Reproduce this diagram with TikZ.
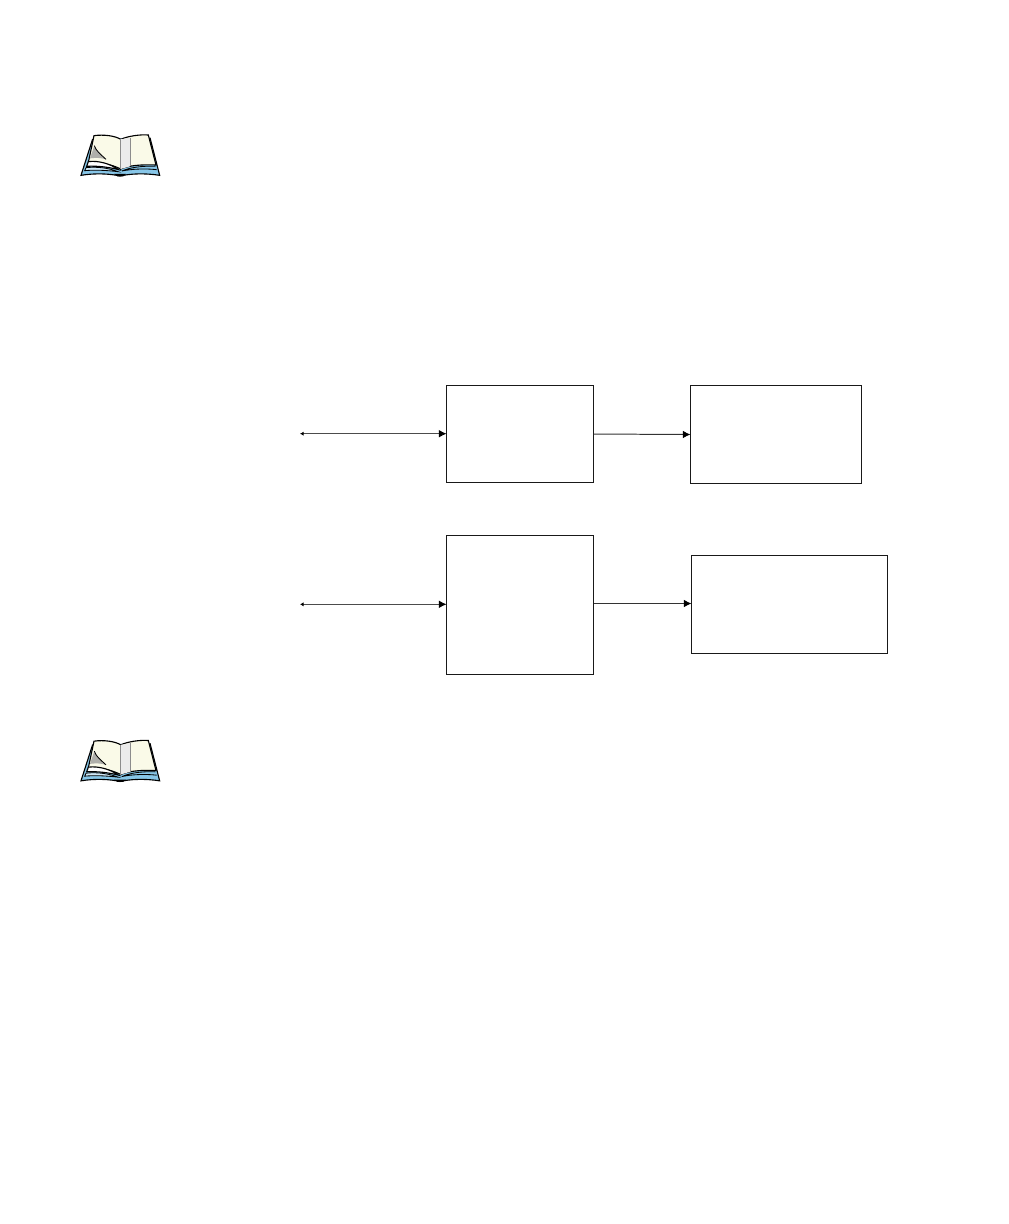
\documentclass[tikz,border=0pt]{standalone}
\usepackage{xcolor}
\usetikzlibrary{arrows.meta}
\definecolor{coverblue}{RGB}{135,198,232}
\definecolor{pagecream}{RGB}{250,250,232}
\definecolor{curlgray}{RGB}{175,175,170}

\begin{document}
\begin{tikzpicture}[x=0.025cm,y=-0.025cm,
  blockbox/.style={draw=black!90,line width=0.7pt,fill=white,anchor=north west,inner sep=0pt,outer sep=0pt},
  link/.style={draw=black!70,line width=0.6pt,{Latex[length=2.5pt,width=3pt,black]}-{Latex[length=5.5pt,width=5.5pt,black]}},
  oneway/.style={draw=black!80,line width=0.7pt,-{Latex[length=5.5pt,width=5.5pt,black]}},
  book/.pic={
    \begin{scope}[scale=0.3333]
      \fill[coverblue] (33,151) -- (68,42) -- (240,38) -- (269,151) .. controls (225,144) and (180,146) .. (150,153) .. controls (120,146) and (75,144) .. cycle;
      \draw[line width=0.8pt] (68,42) -- (33,151) .. controls (75,144) and (120,146) .. (150,153) .. controls (180,146) and (225,144) .. (269,151) -- (240,38);
      \fill[pagecream,draw=black,line width=0.8pt] (72,32) .. controls (100,28) and (135,32) .. (152,43) -- (152,132) .. controls (125,118) and (85,110) .. (55,112) -- cycle;
      \fill[pagecream,draw=black,line width=0.8pt] (152,43) .. controls (175,33) and (210,28) .. (235,30) -- (258,120) .. controls (210,118) and (175,122) .. (152,132) -- cycle;
      \fill[black!8] (152,43) -- (180,38) -- (180,124) -- (152,132) -- cycle;
      \draw[black!45,line width=0.4pt] (152,43) -- (152,132) (180,38) -- (180,124);
      \fill[curlgray] (73,62) .. controls (78,78) and (92,88) .. (108,103) .. controls (92,98) and (78,98) .. (60,100) -- cycle;
      \draw[line width=0.6pt] (73,62) .. controls (78,78) and (92,88) .. (108,103);
      \draw[line width=0.8pt,fill=white] (55,110) .. controls (85,106) and (120,116) .. (146,134) .. controls (115,126) and (80,122) .. (50,124) -- cycle;
      \draw[line width=0.6pt,fill=coverblue!40] (48,128) .. controls (85,124) and (118,130) .. (144,140) .. controls (110,136) and (75,134) .. (44,137) -- cycle;
      \draw[line width=0.6pt] (256,124) .. controls (215,122) and (178,128) .. (156,138) .. controls (185,132) and (225,130) .. (260,134);
      \fill[black] (132,147) -- (168,147) -- (160,154) -- (142,154) -- cycle;
    \end{scope}
  }]
  \useasboundingbox (0,0) rectangle (1008,1224);

  \pic (booktop) at (70,125) {book};
  \pic (bookbot) at (70,730.5) {book};

  \node[blockbox,minimum width=3.675cm,minimum height=2.425cm] (upper) at (446.5,385.5) {};
  \node[blockbox,minimum width=4.275cm,minimum height=2.45cm] (upperout) at (690.5,385.5) {};
  \node[blockbox,minimum width=3.675cm,minimum height=3.475cm] (lower) at (446.5,535.5) {};
  \node[blockbox,minimum width=4.9cm,minimum height=2.45cm] (lowerout) at (691.5,555.5) {};

  \coordinate (upperin) at (300,433.7);
  \coordinate (lowerin) at (300,604.3);
  \coordinate (lowerjoin) at (593.5,603.5);

  \draw[link] (upperin) -- (upperin -| upper.west);
  \draw[oneway] (upper.east) -- (upperout.west);
  \draw[link] (lowerin) -- (lowerin -| lower.west);
  \draw[oneway] (lowerjoin) -- (lowerjoin -| lowerout.west);
\end{tikzpicture}
\end{document}
